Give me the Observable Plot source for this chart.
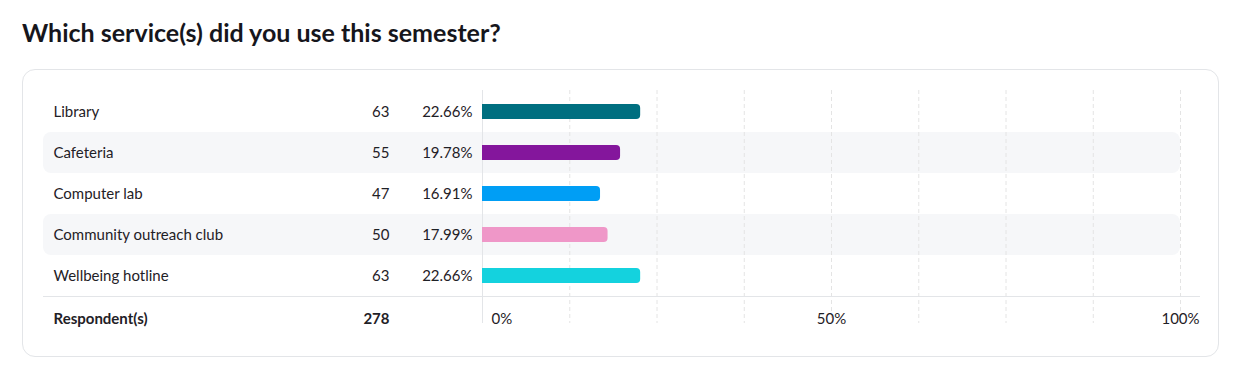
<!DOCTYPE html>
<html>
<head>
<meta charset="utf-8">
<script src="https://cdn.jsdelivr.net/npm/d3@7"></script>
<script src="https://cdn.jsdelivr.net/npm/@observablehq/plot@0.6"></script>
<style>
  html, body { margin: 0; padding: 0; background: #ffffff; }
  body { width: 1249px; height: 381px; position: relative; overflow: hidden; font-family: Lato, "Open Sans", sans-serif; }
  #title { position: absolute; left: 22px; top: 19px; margin: 0; font-size: 25px; line-height: 26px; font-weight: 700; color: #16161c; }
  #card { position: absolute; left: 22px; top: 69px; width: 1197px; height: 288px; box-sizing: border-box; border: 1px solid #e3e5e8; border-radius: 13px; background: #fff; }
  #chart { position: absolute; left: 0; top: 0; }
  #chart svg { display: block; }
</style>
</head>
<body>
<h2 id="title">Which service(s) did you use this semester?</h2>
<div id="card"><div id="chart"></div></div>
<script>
const categories = ["Library", "Cafeteria", "Computer lab", "Community outreach club", "Wellbeing hotline"];
const counts = [63, 55, 47, 50, 63];
const percents = [22.66, 19.78, 16.91, 17.99, 22.66];
const colors = ["#006f80", "#84169c", "#009ef5", "#ef97c8", "#14d2de"];
const stripedRows = ["Cafeteria", "Community outreach club"];
const respondentsLabel = "Respondent(s)";
const respondents = 278;
const tickValues = [0, 50, 100];
const gridValues = [12.5, 25, 37.5, 50, 62.5, 75, 87.5, 100];

const rows = categories.map((c, i) => ({category: c, count: counts[i], pct: percents[i]}));
const textColor = "#1f2126";
const leftDx = -429;

const chart = Plot.plot({
  width: 1195,
  height: 286,
  marginLeft: 459,
  marginRight: 38,
  marginTop: 21,
  marginBottom: 60,
  style: {fontFamily: "Lato, 'Open Sans', sans-serif", fontSize: "15px", color: textColor, background: "transparent"},
  x: {domain: [0, 100], axis: null},
  y: {domain: categories, padding: 0, axis: null},
  color: {domain: categories, range: colors},
  marks: [
    // striped row backgrounds
    Plot.barX(stripedRows, {x1: 0, x2: 100, y: d => d, fill: "#f6f7f9", insetLeft: -439, rx: 8}),
    // dashed gridlines
    Plot.ruleX(gridValues, {x: d => d, stroke: "#e4e4e4", strokeDasharray: "4,3", insetTop: -1, insetBottom: -27}),
    // zero axis line
    Plot.ruleX([0], {stroke: "#e3e5e8", insetTop: -1, insetBottom: -27}),
    // bottom separator
    Plot.frame({anchor: "bottom", stroke: "#e3e5e8", insetLeft: -439, insetRight: -19}),
    // bars
    Plot.barX(rows, {x: "pct", y: "category", fill: "category", insetTop: 13, insetBottom: 13, rx2: 4}),
    // label column
    Plot.text(rows, {y: "category", text: "category", frameAnchor: "left", dx: leftDx, textAnchor: "start", fill: textColor}),
    // count column
    Plot.text(rows, {y: "category", text: d => String(d.count), frameAnchor: "left", dx: -93, textAnchor: "end", fill: textColor}),
    // percent column
    Plot.text(rows, {y: "category", text: d => d.pct.toFixed(2) + "%", frameAnchor: "left", dx: -10, textAnchor: "end", fill: textColor}),
    // respondents row
    Plot.text([respondentsLabel], {text: d => d, frameAnchor: "bottom-left", dx: leftDx, dy: 27, textAnchor: "start", fontWeight: 700, fill: textColor}),
    Plot.text([respondents], {text: d => String(d), frameAnchor: "bottom-left", dx: -93, dy: 27, textAnchor: "end", fontWeight: 700, fill: textColor}),
    // x tick labels
    Plot.text(tickValues.filter(v => v === 0), {x: d => d, text: d => d + "%", frameAnchor: "bottom", dx: 9, dy: 27, textAnchor: "start", fill: textColor}),
    Plot.text(tickValues.filter(v => v !== 0), {x: d => d, text: d => d + "%", frameAnchor: "bottom", dy: 27, textAnchor: "middle", fill: textColor})
  ]
});
document.getElementById("chart").appendChild(chart);
</script>
</body>
</html>
